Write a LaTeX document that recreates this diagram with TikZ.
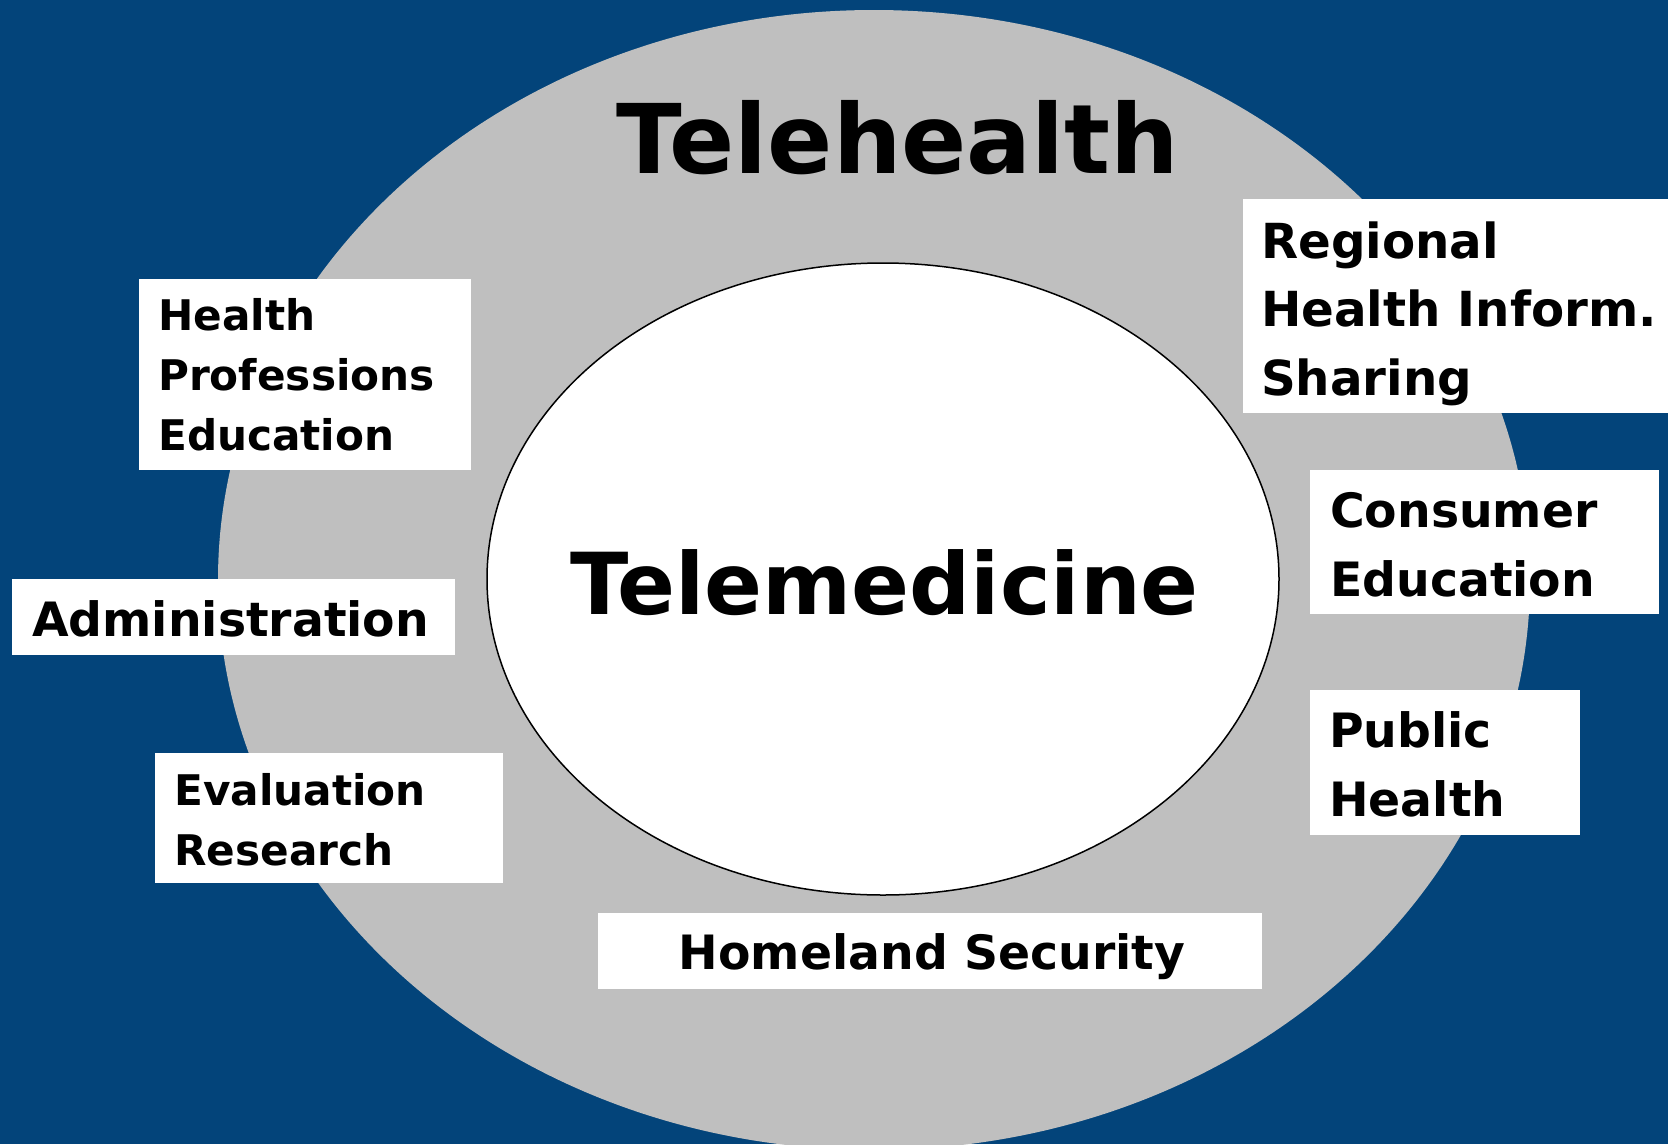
\documentclass[tikz,border=0pt]{standalone}
\usepackage{fontspec}
\setmainfont{DejaVu Sans}
\usetikzlibrary{shapes.geometric}
\definecolor{bgblue}{RGB}{3,68,122}
\definecolor{ringgray}{RGB}{191,191,191}
\begin{document}
\begin{tikzpicture}[x=1pt,y=-1pt,
  box/.style={fill=white, draw=none, inner sep=0pt, outer sep=0pt, anchor=north west},
  biglbl/.style={inner sep=0pt, anchor=base west, font=\fontsize{47.3}{69}\selectfont\bfseries},
  smalllbl/.style={inner sep=0pt, anchor=base west, font=\fontsize{42.2}{60}\selectfont\bfseries},
  ring/.style={ellipse, inner sep=0pt, outer sep=0pt}
]
\useasboundingbox (0,0) rectangle (1668,1144);
\fill[bgblue] (0,0) rectangle (1668,1144);
% outer ring (Telehealth) and inner ellipse (Telemedicine)
\node[ring, fill=ringgray, minimum width=1312pt, minimum height=1140pt] (outer) at (874,580) {};
\node[ring, fill=white, draw=black, line width=1.5pt, minimum width=792pt, minimum height=632pt] (inner) at (883,579) {};
% titles
\node[inner sep=0pt, anchor=base, font=\fontsize{96.2}{100}\selectfont\bfseries] (telehealth) at (898,173) {Telehealth};
\node[inner sep=0pt, anchor=base, font=\fontsize{85.5}{90}\selectfont\bfseries] (telemedicine) at (884.5,614) {Telemedicine};
% boxes
\node[box, minimum width=332pt, minimum height=191pt] (hpebox) at (139,279) {};
\node[smalllbl] (hpe) at (158,330) {\begin{tabular}[t]{@{}l@{}}Health\\Professions\\Education\end{tabular}};
\node[box, minimum width=443pt, minimum height=76pt] (admbox) at (12,579) {};
\node[biglbl] (adm) at (32,636) {Administration};
\node[box, minimum width=348pt, minimum height=130pt] (evalbox) at (155,753) {};
\node[smalllbl] (eval) at (174,805) {\begin{tabular}[t]{@{}l@{}}Evaluation\\Research\end{tabular}};
\node[box, minimum width=664pt, minimum height=76pt] (homebox) at (598,913) {};
\node[inner sep=0pt, anchor=base, font=\fontsize{47.3}{69}\selectfont\bfseries] (home) at (932,969) {Homeland Security};
\node[box, minimum width=425pt, minimum height=214pt] (regbox) at (1243,199) {};
\node[biglbl, font=\fontsize{48.3}{68.5}\selectfont\bfseries] (reg) at (1261,258) {\begin{tabular}[t]{@{}l@{}}Regional\\Health Inform.\\Sharing\end{tabular}};
\node[box, minimum width=349pt, minimum height=144pt] (conbox) at (1310,470) {};
\node[biglbl] (con) at (1330,527) {\begin{tabular}[t]{@{}l@{}}Consumer\\Education\end{tabular}};
\node[box, minimum width=270pt, minimum height=145pt] (pubbox) at (1310,690) {};
\node[biglbl] (pub) at (1329,747) {\begin{tabular}[t]{@{}l@{}}Public\\Health\end{tabular}};
\end{tikzpicture}
\end{document}
